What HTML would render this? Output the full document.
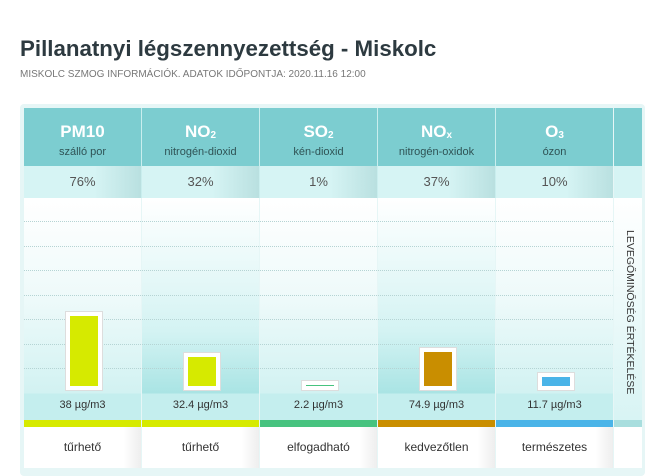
<!DOCTYPE html>
<html><head><meta charset="utf-8"><style>
body{margin:0;width:648px;height:476px;background:#fff;font-family:"Liberation Sans",sans-serif;overflow:hidden;position:relative}
.t{position:absolute;left:20px;top:36px;font-size:22.3px;font-weight:bold;color:#2d3a40}
.s{position:absolute;left:20px;top:69px;font-size:10px;color:#777}
#box{position:absolute;left:20px;top:104px;width:625px;height:372px;background:#e6f6f6;border-radius:4px}
.col{position:absolute;top:108px;width:117px}
.hd{position:absolute;top:0;left:0;width:100%;height:58px;background:#7ccdd0;text-align:center;color:#fff}
.hd b{display:block;margin-top:14px;font-size:17px}
.hd span{display:block;font-size:11px;color:#2f5355;margin-top:4px}
.pc{position:absolute;top:58px;height:32px;width:100%;background:linear-gradient(90deg,#d6f4f4 60%,#b9e0e0);text-align:center;line-height:32px;font-size:13px;color:#555}
.ch{position:absolute;top:90px;height:222px;width:100%}
.val{position:absolute;top:291px;width:100%;text-align:center;font-size:11px;color:#333}
.strip{position:absolute;top:312px;height:7px;width:100%}
.lb{position:absolute;top:319px;height:41px;width:100%;background:linear-gradient(90deg,#fff 85%,#eee);text-align:center;line-height:41px;font-size:12px;color:#333}
.sep{position:absolute;top:108px;width:1px;height:90px;background:#c9eeee}
</style></head><body>
<div class="t">Pillanatnyi légszennyezettség - Miskolc</div>
<div class="s">MISKOLC SZMOG INFORMÁCIÓK. ADATOK IDŐPONTJA: 2020.11.16 12:00</div>
<div id="box"></div>
<div id="cols"></div>
<div style="position:absolute;left:614px;top:108px;width:28px;height:360px">
<div style="position:absolute;top:0;height:58px;width:100%;background:#7ccdd0"></div>
<div style="position:absolute;top:58px;height:32px;width:100%;background:#d6f4f4"></div>
<div style="position:absolute;top:90px;height:222px;width:100%;background:linear-gradient(#fff,#d8f4f4)"></div>
<div style="position:absolute;top:312px;height:7px;width:100%;background:#a8dede"></div>
<div style="position:absolute;top:319px;height:41px;width:100%;background:#fff"></div>
<div style="position:absolute;top:122px;height:0;font-size:10.5px;color:#333;white-space:nowrap;transform:rotate(90deg);transform-origin:0 0;left:22px">LEVEGŐMINŐSÉG ÉRTÉKELÉSE</div>
</div>
<script>
const names=["PM10","NO","SO","NO","O"];
const subs=["","2","2","x","3"];
const descs=["szálló por","nitrogén-dioxid","kén-dioxid","nitrogén-oxidok","ózon"];
const pcts=[76,32,1,37,10];
const values=["38 µg/m3","32.4 µg/m3","2.2 µg/m3","74.9 µg/m3","11.7 µg/m3"];
const ratings=["tűrhető","tűrhető","elfogadható","kedvezőtlen","természetes"];
const colors=["#d6ea00","#d6ea00","#47c37f","#c98e00","#4ab4e8"];
const y=p=>p*0.92;
const root=document.getElementById('cols');
pcts.forEach((p,i)=>{
 const c=document.createElement('div');c.className='col';c.style.left=(24+i*118)+'px';c.style.height='360px';
 
 
 const dark=i%2==1;
 const bg=dark?'linear-gradient(#fff 0%,#d4f3f3 60%,#a9e4e4 88%,#c4eeee 88%)':'linear-gradient(#fff 0%,#eefafa 45%,#d2f2f2 88%,#c4eeee 88%)';
 let grid='';for(let k=0;k<7;k++)grid+=`<div style="position:absolute;left:0;right:0;top:${23+k*24.5}px;border-top:1px dotted #b5d4d4"></div>`;
 const h=Math.max(1,y(p));
 c.innerHTML=`<div class="hd"><b>${names[i]}<sub style="font-size:10px;vertical-align:-1px">${subs[i]}</sub></b><span>${descs[i]}</span></div>
<div class="pc">${p}%</div>
<div class="ch" style="background:${bg}">${grid}
<div class="bar" style="position:absolute;left:46px;width:28px"></div></div>
<div class="val">${values[i]}</div>
<div class="strip" style="background:${colors[i]}"></div>
<div class="lb">${ratings[i]}</div>`;
 const b=c.querySelector('.bar');
 b.style.bottom='34px';b.style.height=h+'px';b.style.background=colors[i];
 b.style.outline='4px solid #fff';b.style.boxShadow='0 0 0 5px #ddd';
 
 
 c.querySelector('.hd');
 c.querySelector('.hd');
 c.querySelector('.pc');
 c.querySelector('.pc');
 c.querySelector('.val');
 c.querySelector('.val');
 c.querySelector('.lb');
 c.querySelector('.lb');
 root.appendChild(c);
 if(i>0){const s=document.createElement('div');s.className='sep';s.style.left=(23+i*118)+'px';
 
 
 root.appendChild(s);}
});
</script>
</body></html>
